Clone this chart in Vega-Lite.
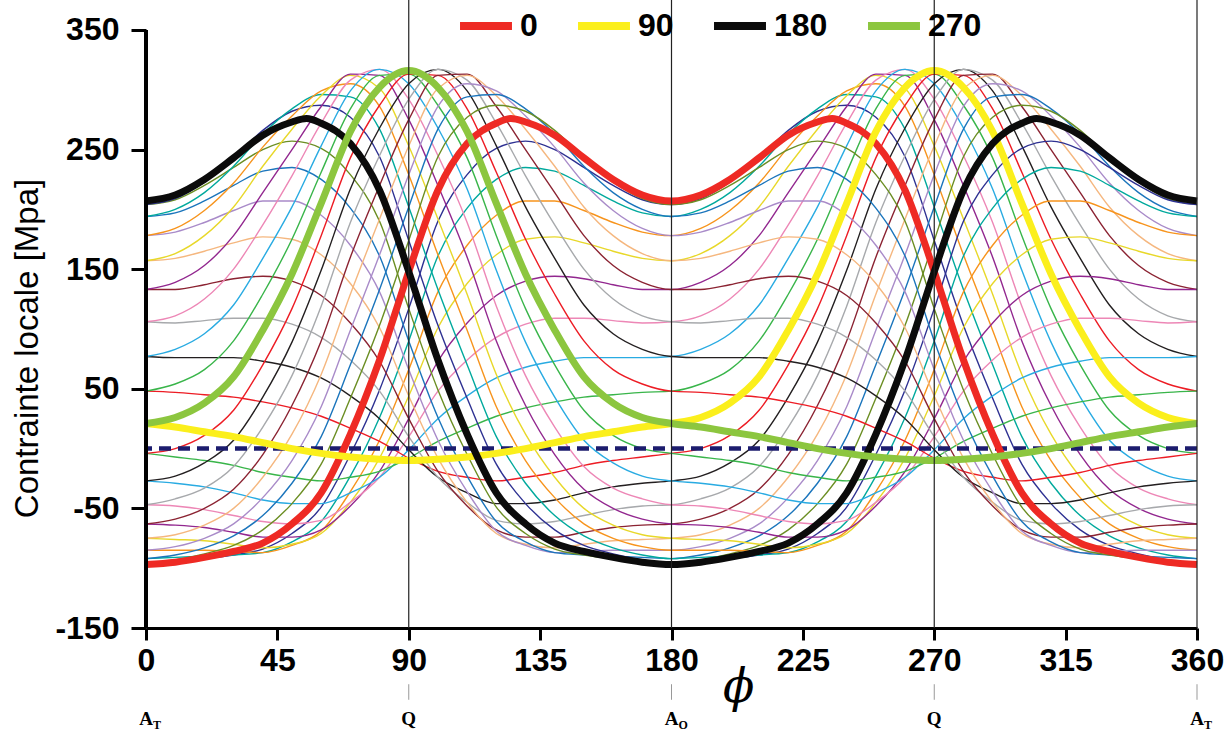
{
"$schema": "https://vega.github.io/schema/vega-lite/v6.json",
"width": 1051, "height": 628,
"autosize": {"type": "none"},
"padding": {"left": 146, "top": 0, "right": 35, "bottom": 114},
"config": {"view": {"stroke": null}, "font": "Liberation Sans"},
"datasets": {
"thin": [
{"t":10,"p":0,"v":-96},{"t":10,"p":10,"v":-94},{"t":10,"p":20,"v":-92},{"t":10,"p":30,"v":-89},{"t":10,"p":40,"v":-84},{"t":10,"p":50,"v":-71},{"t":10,"p":60,"v":-49},{"t":10,"p":70,"v":-5},{"t":10,"p":80,"v":49},{"t":10,"p":90,"v":117},{"t":10,"p":100,"v":190},{"t":10,"p":110,"v":229},{"t":10,"p":120,"v":251},{"t":10,"p":130,"v":257},{"t":10,"p":140,"v":250},{"t":10,"p":150,"v":235},{"t":10,"p":160,"v":220},{"t":10,"p":170,"v":208},{"t":10,"p":180,"v":204},{"t":10,"p":190,"v":209},{"t":10,"p":200,"v":223},{"t":10,"p":210,"v":243},{"t":10,"p":220,"v":266},{"t":10,"p":230,"v":282},{"t":10,"p":240,"v":287},{"t":10,"p":250,"v":277},{"t":10,"p":260,"v":244},{"t":10,"p":270,"v":174},{"t":10,"p":280,"v":103},{"t":10,"p":290,"v":42},{"t":10,"p":300,"v":-13},{"t":10,"p":310,"v":-46},{"t":10,"p":320,"v":-68},{"t":10,"p":330,"v":-81},{"t":10,"p":340,"v":-88},{"t":10,"p":350,"v":-93},{"t":10,"p":360,"v":-96},
{"t":20,"p":0,"v":-92},{"t":20,"p":10,"v":-91},{"t":20,"p":20,"v":-90},{"t":20,"p":30,"v":-89},{"t":20,"p":40,"v":-87},{"t":20,"p":50,"v":-78},{"t":20,"p":60,"v":-61},{"t":20,"p":70,"v":-23},{"t":20,"p":80,"v":26},{"t":20,"p":90,"v":90},{"t":20,"p":100,"v":161},{"t":20,"p":110,"v":201},{"t":20,"p":120,"v":225},{"t":20,"p":130,"v":235},{"t":20,"p":140,"v":232},{"t":20,"p":150,"v":220},{"t":20,"p":160,"v":207},{"t":20,"p":170,"v":197},{"t":20,"p":180,"v":194},{"t":20,"p":190,"v":200},{"t":20,"p":200,"v":214},{"t":20,"p":210,"v":236},{"t":20,"p":220,"v":263},{"t":20,"p":230,"v":284},{"t":20,"p":240,"v":296},{"t":20,"p":250,"v":294},{"t":20,"p":260,"v":267},{"t":20,"p":270,"v":202},{"t":20,"p":280,"v":133},{"t":20,"p":290,"v":70},{"t":20,"p":300,"v":10},{"t":20,"p":310,"v":-29},{"t":20,"p":320,"v":-56},{"t":20,"p":330,"v":-73},{"t":20,"p":340,"v":-83},{"t":20,"p":350,"v":-89},{"t":20,"p":360,"v":-92},
{"t":30,"p":0,"v":-85},{"t":30,"p":10,"v":-85},{"t":30,"p":20,"v":-85},{"t":30,"p":30,"v":-86},{"t":30,"p":40,"v":-87},{"t":30,"p":50,"v":-81},{"t":30,"p":60,"v":-69},{"t":30,"p":70,"v":-36},{"t":30,"p":80,"v":7},{"t":30,"p":90,"v":66},{"t":30,"p":100,"v":131},{"t":30,"p":110,"v":170},{"t":30,"p":120,"v":195},{"t":30,"p":130,"v":207},{"t":30,"p":140,"v":207},{"t":30,"p":150,"v":199},{"t":30,"p":160,"v":189},{"t":30,"p":170,"v":181},{"t":30,"p":180,"v":178},{"t":30,"p":190,"v":184},{"t":30,"p":200,"v":199},{"t":30,"p":210,"v":222},{"t":30,"p":220,"v":252},{"t":30,"p":230,"v":278},{"t":30,"p":240,"v":299},{"t":30,"p":250,"v":305},{"t":30,"p":260,"v":286},{"t":30,"p":270,"v":229},{"t":30,"p":280,"v":162},{"t":30,"p":290,"v":99},{"t":30,"p":300,"v":35},{"t":30,"p":310,"v":-10},{"t":30,"p":320,"v":-41},{"t":30,"p":330,"v":-63},{"t":30,"p":340,"v":-75},{"t":30,"p":350,"v":-82},{"t":30,"p":360,"v":-85},
{"t":40,"p":0,"v":-75},{"t":40,"p":10,"v":-76},{"t":40,"p":20,"v":-77},{"t":40,"p":30,"v":-80},{"t":40,"p":40,"v":-83},{"t":40,"p":50,"v":-80},{"t":40,"p":60,"v":-71},{"t":40,"p":70,"v":-45},{"t":40,"p":80,"v":-8},{"t":40,"p":90,"v":44},{"t":40,"p":100,"v":101},{"t":40,"p":110,"v":138},{"t":40,"p":120,"v":162},{"t":40,"p":130,"v":175},{"t":40,"p":140,"v":177},{"t":40,"p":150,"v":172},{"t":40,"p":160,"v":165},{"t":40,"p":170,"v":159},{"t":40,"p":180,"v":157},{"t":40,"p":190,"v":163},{"t":40,"p":200,"v":178},{"t":40,"p":210,"v":202},{"t":40,"p":220,"v":236},{"t":40,"p":230,"v":267},{"t":40,"p":240,"v":295},{"t":40,"p":250,"v":312},{"t":40,"p":260,"v":301},{"t":40,"p":270,"v":253},{"t":40,"p":280,"v":192},{"t":40,"p":290,"v":129},{"t":40,"p":300,"v":62},{"t":40,"p":310,"v":12},{"t":40,"p":320,"v":-24},{"t":40,"p":330,"v":-50},{"t":40,"p":340,"v":-64},{"t":40,"p":350,"v":-72},{"t":40,"p":360,"v":-75},
{"t":50,"p":0,"v":-63},{"t":50,"p":10,"v":-64},{"t":50,"p":20,"v":-66},{"t":50,"p":30,"v":-70},{"t":50,"p":40,"v":-74},{"t":50,"p":50,"v":-74},{"t":50,"p":60,"v":-68},{"t":50,"p":70,"v":-48},{"t":50,"p":80,"v":-19},{"t":50,"p":90,"v":25},{"t":50,"p":100,"v":73},{"t":50,"p":110,"v":105},{"t":50,"p":120,"v":128},{"t":50,"p":130,"v":140},{"t":50,"p":140,"v":144},{"t":50,"p":150,"v":142},{"t":50,"p":160,"v":137},{"t":50,"p":170,"v":133},{"t":50,"p":180,"v":133},{"t":50,"p":190,"v":139},{"t":50,"p":200,"v":153},{"t":50,"p":210,"v":178},{"t":50,"p":220,"v":214},{"t":50,"p":230,"v":250},{"t":50,"p":240,"v":286},{"t":50,"p":250,"v":313},{"t":50,"p":260,"v":312},{"t":50,"p":270,"v":275},{"t":50,"p":280,"v":220},{"t":50,"p":290,"v":160},{"t":50,"p":300,"v":90},{"t":50,"p":310,"v":36},{"t":50,"p":320,"v":-5},{"t":50,"p":330,"v":-34},{"t":50,"p":340,"v":-50},{"t":50,"p":350,"v":-59},{"t":50,"p":360,"v":-63},
{"t":60,"p":0,"v":-47},{"t":60,"p":10,"v":-48},{"t":60,"p":20,"v":-51},{"t":60,"p":30,"v":-56},{"t":60,"p":40,"v":-61},{"t":60,"p":50,"v":-63},{"t":60,"p":60,"v":-60},{"t":60,"p":70,"v":-45},{"t":60,"p":80,"v":-24},{"t":60,"p":90,"v":10},{"t":60,"p":100,"v":48},{"t":60,"p":110,"v":74},{"t":60,"p":120,"v":93},{"t":60,"p":130,"v":104},{"t":60,"p":140,"v":109},{"t":60,"p":150,"v":109},{"t":60,"p":160,"v":107},{"t":60,"p":170,"v":105},{"t":60,"p":180,"v":106},{"t":60,"p":190,"v":111},{"t":60,"p":200,"v":125},{"t":60,"p":210,"v":150},{"t":60,"p":220,"v":187},{"t":60,"p":230,"v":228},{"t":60,"p":240,"v":272},{"t":60,"p":250,"v":308},{"t":60,"p":260,"v":317},{"t":60,"p":270,"v":292},{"t":60,"p":280,"v":245},{"t":60,"p":290,"v":189},{"t":60,"p":300,"v":119},{"t":60,"p":310,"v":61},{"t":60,"p":320,"v":18},{"t":60,"p":330,"v":-15},{"t":60,"p":340,"v":-33},{"t":60,"p":350,"v":-42},{"t":60,"p":360,"v":-47},
{"t":70,"p":0,"v":-27},{"t":70,"p":10,"v":-29},{"t":70,"p":20,"v":-32},{"t":70,"p":30,"v":-37},{"t":70,"p":40,"v":-43},{"t":70,"p":50,"v":-46},{"t":70,"p":60,"v":-46},{"t":70,"p":70,"v":-37},{"t":70,"p":80,"v":-24},{"t":70,"p":90,"v":-1},{"t":70,"p":100,"v":25},{"t":70,"p":110,"v":44},{"t":70,"p":120,"v":59},{"t":70,"p":130,"v":68},{"t":70,"p":140,"v":73},{"t":70,"p":150,"v":76},{"t":70,"p":160,"v":76},{"t":70,"p":170,"v":76},{"t":70,"p":180,"v":77},{"t":70,"p":190,"v":83},{"t":70,"p":200,"v":96},{"t":70,"p":210,"v":120},{"t":70,"p":220,"v":159},{"t":70,"p":230,"v":202},{"t":70,"p":240,"v":253},{"t":70,"p":250,"v":299},{"t":70,"p":260,"v":317},{"t":70,"p":270,"v":305},{"t":70,"p":280,"v":268},{"t":70,"p":290,"v":217},{"t":70,"p":300,"v":149},{"t":70,"p":310,"v":89},{"t":70,"p":320,"v":43},{"t":70,"p":330,"v":7},{"t":70,"p":340,"v":-12},{"t":70,"p":350,"v":-23},{"t":70,"p":360,"v":-27},
{"t":80,"p":0,"v":-4},{"t":80,"p":10,"v":-7},{"t":80,"p":20,"v":-10},{"t":80,"p":30,"v":-14},{"t":80,"p":40,"v":-20},{"t":80,"p":50,"v":-24},{"t":80,"p":60,"v":-27},{"t":80,"p":70,"v":-24},{"t":80,"p":80,"v":-19},{"t":80,"p":90,"v":-8},{"t":80,"p":100,"v":6},{"t":80,"p":110,"v":17},{"t":80,"p":120,"v":27},{"t":80,"p":130,"v":34},{"t":80,"p":140,"v":39},{"t":80,"p":150,"v":43},{"t":80,"p":160,"v":45},{"t":80,"p":170,"v":47},{"t":80,"p":180,"v":48},{"t":80,"p":190,"v":54},{"t":80,"p":200,"v":66},{"t":80,"p":210,"v":90},{"t":80,"p":220,"v":129},{"t":80,"p":230,"v":175},{"t":80,"p":240,"v":231},{"t":80,"p":250,"v":284},{"t":80,"p":260,"v":312},{"t":80,"p":270,"v":313},{"t":80,"p":280,"v":287},{"t":80,"p":290,"v":243},{"t":80,"p":300,"v":178},{"t":80,"p":310,"v":117},{"t":80,"p":320,"v":70},{"t":80,"p":330,"v":32},{"t":80,"p":340,"v":11},{"t":80,"p":350,"v":0},{"t":80,"p":360,"v":-4},
{"t":100,"p":0,"v":48},{"t":100,"p":10,"v":47},{"t":100,"p":20,"v":45},{"t":100,"p":30,"v":43},{"t":100,"p":40,"v":39},{"t":100,"p":50,"v":34},{"t":100,"p":60,"v":27},{"t":100,"p":70,"v":17},{"t":100,"p":80,"v":6},{"t":100,"p":90,"v":-8},{"t":100,"p":100,"v":-19},{"t":100,"p":110,"v":-24},{"t":100,"p":120,"v":-27},{"t":100,"p":130,"v":-24},{"t":100,"p":140,"v":-20},{"t":100,"p":150,"v":-14},{"t":100,"p":160,"v":-10},{"t":100,"p":170,"v":-7},{"t":100,"p":180,"v":-4},{"t":100,"p":190,"v":0},{"t":100,"p":200,"v":11},{"t":100,"p":210,"v":32},{"t":100,"p":220,"v":70},{"t":100,"p":230,"v":117},{"t":100,"p":240,"v":178},{"t":100,"p":250,"v":243},{"t":100,"p":260,"v":287},{"t":100,"p":270,"v":313},{"t":100,"p":280,"v":312},{"t":100,"p":290,"v":284},{"t":100,"p":300,"v":231},{"t":100,"p":310,"v":175},{"t":100,"p":320,"v":129},{"t":100,"p":330,"v":90},{"t":100,"p":340,"v":66},{"t":100,"p":350,"v":54},{"t":100,"p":360,"v":48},
{"t":110,"p":0,"v":77},{"t":110,"p":10,"v":76},{"t":110,"p":20,"v":76},{"t":110,"p":30,"v":76},{"t":110,"p":40,"v":73},{"t":110,"p":50,"v":68},{"t":110,"p":60,"v":59},{"t":110,"p":70,"v":44},{"t":110,"p":80,"v":25},{"t":110,"p":90,"v":-1},{"t":110,"p":100,"v":-24},{"t":110,"p":110,"v":-37},{"t":110,"p":120,"v":-46},{"t":110,"p":130,"v":-46},{"t":110,"p":140,"v":-43},{"t":110,"p":150,"v":-37},{"t":110,"p":160,"v":-32},{"t":110,"p":170,"v":-29},{"t":110,"p":180,"v":-27},{"t":110,"p":190,"v":-23},{"t":110,"p":200,"v":-12},{"t":110,"p":210,"v":7},{"t":110,"p":220,"v":43},{"t":110,"p":230,"v":89},{"t":110,"p":240,"v":149},{"t":110,"p":250,"v":217},{"t":110,"p":260,"v":268},{"t":110,"p":270,"v":305},{"t":110,"p":280,"v":317},{"t":110,"p":290,"v":299},{"t":110,"p":300,"v":253},{"t":110,"p":310,"v":202},{"t":110,"p":320,"v":159},{"t":110,"p":330,"v":120},{"t":110,"p":340,"v":96},{"t":110,"p":350,"v":83},{"t":110,"p":360,"v":77},
{"t":120,"p":0,"v":106},{"t":120,"p":10,"v":105},{"t":120,"p":20,"v":107},{"t":120,"p":30,"v":109},{"t":120,"p":40,"v":109},{"t":120,"p":50,"v":104},{"t":120,"p":60,"v":93},{"t":120,"p":70,"v":74},{"t":120,"p":80,"v":48},{"t":120,"p":90,"v":10},{"t":120,"p":100,"v":-24},{"t":120,"p":110,"v":-45},{"t":120,"p":120,"v":-60},{"t":120,"p":130,"v":-63},{"t":120,"p":140,"v":-61},{"t":120,"p":150,"v":-56},{"t":120,"p":160,"v":-51},{"t":120,"p":170,"v":-48},{"t":120,"p":180,"v":-47},{"t":120,"p":190,"v":-42},{"t":120,"p":200,"v":-33},{"t":120,"p":210,"v":-15},{"t":120,"p":220,"v":18},{"t":120,"p":230,"v":61},{"t":120,"p":240,"v":119},{"t":120,"p":250,"v":189},{"t":120,"p":260,"v":245},{"t":120,"p":270,"v":292},{"t":120,"p":280,"v":317},{"t":120,"p":290,"v":308},{"t":120,"p":300,"v":272},{"t":120,"p":310,"v":228},{"t":120,"p":320,"v":187},{"t":120,"p":330,"v":150},{"t":120,"p":340,"v":125},{"t":120,"p":350,"v":111},{"t":120,"p":360,"v":106},
{"t":130,"p":0,"v":133},{"t":130,"p":10,"v":133},{"t":130,"p":20,"v":137},{"t":130,"p":30,"v":142},{"t":130,"p":40,"v":144},{"t":130,"p":50,"v":140},{"t":130,"p":60,"v":128},{"t":130,"p":70,"v":105},{"t":130,"p":80,"v":73},{"t":130,"p":90,"v":25},{"t":130,"p":100,"v":-19},{"t":130,"p":110,"v":-48},{"t":130,"p":120,"v":-68},{"t":130,"p":130,"v":-74},{"t":130,"p":140,"v":-74},{"t":130,"p":150,"v":-70},{"t":130,"p":160,"v":-66},{"t":130,"p":170,"v":-64},{"t":130,"p":180,"v":-63},{"t":130,"p":190,"v":-59},{"t":130,"p":200,"v":-50},{"t":130,"p":210,"v":-34},{"t":130,"p":220,"v":-5},{"t":130,"p":230,"v":36},{"t":130,"p":240,"v":90},{"t":130,"p":250,"v":160},{"t":130,"p":260,"v":220},{"t":130,"p":270,"v":275},{"t":130,"p":280,"v":312},{"t":130,"p":290,"v":313},{"t":130,"p":300,"v":286},{"t":130,"p":310,"v":250},{"t":130,"p":320,"v":214},{"t":130,"p":330,"v":178},{"t":130,"p":340,"v":153},{"t":130,"p":350,"v":139},{"t":130,"p":360,"v":133},
{"t":140,"p":0,"v":157},{"t":140,"p":10,"v":159},{"t":140,"p":20,"v":165},{"t":140,"p":30,"v":172},{"t":140,"p":40,"v":177},{"t":140,"p":50,"v":175},{"t":140,"p":60,"v":162},{"t":140,"p":70,"v":138},{"t":140,"p":80,"v":101},{"t":140,"p":90,"v":44},{"t":140,"p":100,"v":-8},{"t":140,"p":110,"v":-45},{"t":140,"p":120,"v":-71},{"t":140,"p":130,"v":-80},{"t":140,"p":140,"v":-83},{"t":140,"p":150,"v":-80},{"t":140,"p":160,"v":-77},{"t":140,"p":170,"v":-76},{"t":140,"p":180,"v":-75},{"t":140,"p":190,"v":-72},{"t":140,"p":200,"v":-64},{"t":140,"p":210,"v":-50},{"t":140,"p":220,"v":-24},{"t":140,"p":230,"v":12},{"t":140,"p":240,"v":62},{"t":140,"p":250,"v":129},{"t":140,"p":260,"v":192},{"t":140,"p":270,"v":253},{"t":140,"p":280,"v":301},{"t":140,"p":290,"v":312},{"t":140,"p":300,"v":295},{"t":140,"p":310,"v":267},{"t":140,"p":320,"v":236},{"t":140,"p":330,"v":202},{"t":140,"p":340,"v":178},{"t":140,"p":350,"v":163},{"t":140,"p":360,"v":157},
{"t":150,"p":0,"v":178},{"t":150,"p":10,"v":181},{"t":150,"p":20,"v":189},{"t":150,"p":30,"v":199},{"t":150,"p":40,"v":207},{"t":150,"p":50,"v":207},{"t":150,"p":60,"v":195},{"t":150,"p":70,"v":170},{"t":150,"p":80,"v":131},{"t":150,"p":90,"v":66},{"t":150,"p":100,"v":7},{"t":150,"p":110,"v":-36},{"t":150,"p":120,"v":-69},{"t":150,"p":130,"v":-81},{"t":150,"p":140,"v":-87},{"t":150,"p":150,"v":-86},{"t":150,"p":160,"v":-85},{"t":150,"p":170,"v":-85},{"t":150,"p":180,"v":-85},{"t":150,"p":190,"v":-82},{"t":150,"p":200,"v":-75},{"t":150,"p":210,"v":-63},{"t":150,"p":220,"v":-41},{"t":150,"p":230,"v":-10},{"t":150,"p":240,"v":35},{"t":150,"p":250,"v":99},{"t":150,"p":260,"v":162},{"t":150,"p":270,"v":229},{"t":150,"p":280,"v":286},{"t":150,"p":290,"v":305},{"t":150,"p":300,"v":299},{"t":150,"p":310,"v":278},{"t":150,"p":320,"v":252},{"t":150,"p":330,"v":222},{"t":150,"p":340,"v":199},{"t":150,"p":350,"v":184},{"t":150,"p":360,"v":178},
{"t":160,"p":0,"v":194},{"t":160,"p":10,"v":197},{"t":160,"p":20,"v":207},{"t":160,"p":30,"v":220},{"t":160,"p":40,"v":232},{"t":160,"p":50,"v":235},{"t":160,"p":60,"v":225},{"t":160,"p":70,"v":201},{"t":160,"p":80,"v":161},{"t":160,"p":90,"v":90},{"t":160,"p":100,"v":26},{"t":160,"p":110,"v":-23},{"t":160,"p":120,"v":-61},{"t":160,"p":130,"v":-78},{"t":160,"p":140,"v":-87},{"t":160,"p":150,"v":-89},{"t":160,"p":160,"v":-90},{"t":160,"p":170,"v":-91},{"t":160,"p":180,"v":-92},{"t":160,"p":190,"v":-89},{"t":160,"p":200,"v":-83},{"t":160,"p":210,"v":-73},{"t":160,"p":220,"v":-56},{"t":160,"p":230,"v":-29},{"t":160,"p":240,"v":10},{"t":160,"p":250,"v":70},{"t":160,"p":260,"v":133},{"t":160,"p":270,"v":202},{"t":160,"p":280,"v":267},{"t":160,"p":290,"v":294},{"t":160,"p":300,"v":296},{"t":160,"p":310,"v":284},{"t":160,"p":320,"v":263},{"t":160,"p":330,"v":236},{"t":160,"p":340,"v":214},{"t":160,"p":350,"v":200},{"t":160,"p":360,"v":194},
{"t":170,"p":0,"v":204},{"t":170,"p":10,"v":208},{"t":170,"p":20,"v":220},{"t":170,"p":30,"v":235},{"t":170,"p":40,"v":250},{"t":170,"p":50,"v":257},{"t":170,"p":60,"v":251},{"t":170,"p":70,"v":229},{"t":170,"p":80,"v":190},{"t":170,"p":90,"v":117},{"t":170,"p":100,"v":49},{"t":170,"p":110,"v":-5},{"t":170,"p":120,"v":-49},{"t":170,"p":130,"v":-71},{"t":170,"p":140,"v":-84},{"t":170,"p":150,"v":-89},{"t":170,"p":160,"v":-92},{"t":170,"p":170,"v":-94},{"t":170,"p":180,"v":-96},{"t":170,"p":190,"v":-93},{"t":170,"p":200,"v":-88},{"t":170,"p":210,"v":-81},{"t":170,"p":220,"v":-68},{"t":170,"p":230,"v":-46},{"t":170,"p":240,"v":-13},{"t":170,"p":250,"v":42},{"t":170,"p":260,"v":103},{"t":170,"p":270,"v":174},{"t":170,"p":280,"v":244},{"t":170,"p":290,"v":277},{"t":170,"p":300,"v":287},{"t":170,"p":310,"v":282},{"t":170,"p":320,"v":266},{"t":170,"p":330,"v":243},{"t":170,"p":340,"v":223},{"t":170,"p":350,"v":209},{"t":170,"p":360,"v":204},
{"t":190,"p":0,"v":204},{"t":190,"p":10,"v":209},{"t":190,"p":20,"v":223},{"t":190,"p":30,"v":243},{"t":190,"p":40,"v":266},{"t":190,"p":50,"v":282},{"t":190,"p":60,"v":287},{"t":190,"p":70,"v":277},{"t":190,"p":80,"v":244},{"t":190,"p":90,"v":174},{"t":190,"p":100,"v":103},{"t":190,"p":110,"v":42},{"t":190,"p":120,"v":-13},{"t":190,"p":130,"v":-46},{"t":190,"p":140,"v":-68},{"t":190,"p":150,"v":-81},{"t":190,"p":160,"v":-88},{"t":190,"p":170,"v":-93},{"t":190,"p":180,"v":-96},{"t":190,"p":190,"v":-94},{"t":190,"p":200,"v":-92},{"t":190,"p":210,"v":-89},{"t":190,"p":220,"v":-84},{"t":190,"p":230,"v":-71},{"t":190,"p":240,"v":-49},{"t":190,"p":250,"v":-5},{"t":190,"p":260,"v":49},{"t":190,"p":270,"v":117},{"t":190,"p":280,"v":190},{"t":190,"p":290,"v":229},{"t":190,"p":300,"v":251},{"t":190,"p":310,"v":257},{"t":190,"p":320,"v":250},{"t":190,"p":330,"v":235},{"t":190,"p":340,"v":220},{"t":190,"p":350,"v":208},{"t":190,"p":360,"v":204},
{"t":200,"p":0,"v":194},{"t":200,"p":10,"v":200},{"t":200,"p":20,"v":214},{"t":200,"p":30,"v":236},{"t":200,"p":40,"v":263},{"t":200,"p":50,"v":284},{"t":200,"p":60,"v":296},{"t":200,"p":70,"v":294},{"t":200,"p":80,"v":267},{"t":200,"p":90,"v":202},{"t":200,"p":100,"v":133},{"t":200,"p":110,"v":70},{"t":200,"p":120,"v":10},{"t":200,"p":130,"v":-29},{"t":200,"p":140,"v":-56},{"t":200,"p":150,"v":-73},{"t":200,"p":160,"v":-83},{"t":200,"p":170,"v":-89},{"t":200,"p":180,"v":-92},{"t":200,"p":190,"v":-91},{"t":200,"p":200,"v":-90},{"t":200,"p":210,"v":-89},{"t":200,"p":220,"v":-87},{"t":200,"p":230,"v":-78},{"t":200,"p":240,"v":-61},{"t":200,"p":250,"v":-23},{"t":200,"p":260,"v":26},{"t":200,"p":270,"v":90},{"t":200,"p":280,"v":161},{"t":200,"p":290,"v":201},{"t":200,"p":300,"v":225},{"t":200,"p":310,"v":235},{"t":200,"p":320,"v":232},{"t":200,"p":330,"v":220},{"t":200,"p":340,"v":207},{"t":200,"p":350,"v":197},{"t":200,"p":360,"v":194},
{"t":210,"p":0,"v":178},{"t":210,"p":10,"v":184},{"t":210,"p":20,"v":199},{"t":210,"p":30,"v":222},{"t":210,"p":40,"v":252},{"t":210,"p":50,"v":278},{"t":210,"p":60,"v":299},{"t":210,"p":70,"v":305},{"t":210,"p":80,"v":286},{"t":210,"p":90,"v":229},{"t":210,"p":100,"v":162},{"t":210,"p":110,"v":99},{"t":210,"p":120,"v":35},{"t":210,"p":130,"v":-10},{"t":210,"p":140,"v":-41},{"t":210,"p":150,"v":-63},{"t":210,"p":160,"v":-75},{"t":210,"p":170,"v":-82},{"t":210,"p":180,"v":-85},{"t":210,"p":190,"v":-85},{"t":210,"p":200,"v":-85},{"t":210,"p":210,"v":-86},{"t":210,"p":220,"v":-87},{"t":210,"p":230,"v":-81},{"t":210,"p":240,"v":-69},{"t":210,"p":250,"v":-36},{"t":210,"p":260,"v":7},{"t":210,"p":270,"v":66},{"t":210,"p":280,"v":131},{"t":210,"p":290,"v":170},{"t":210,"p":300,"v":195},{"t":210,"p":310,"v":207},{"t":210,"p":320,"v":207},{"t":210,"p":330,"v":199},{"t":210,"p":340,"v":189},{"t":210,"p":350,"v":181},{"t":210,"p":360,"v":178},
{"t":220,"p":0,"v":157},{"t":220,"p":10,"v":163},{"t":220,"p":20,"v":178},{"t":220,"p":30,"v":202},{"t":220,"p":40,"v":236},{"t":220,"p":50,"v":267},{"t":220,"p":60,"v":295},{"t":220,"p":70,"v":312},{"t":220,"p":80,"v":301},{"t":220,"p":90,"v":253},{"t":220,"p":100,"v":192},{"t":220,"p":110,"v":129},{"t":220,"p":120,"v":62},{"t":220,"p":130,"v":12},{"t":220,"p":140,"v":-24},{"t":220,"p":150,"v":-50},{"t":220,"p":160,"v":-64},{"t":220,"p":170,"v":-72},{"t":220,"p":180,"v":-75},{"t":220,"p":190,"v":-76},{"t":220,"p":200,"v":-77},{"t":220,"p":210,"v":-80},{"t":220,"p":220,"v":-83},{"t":220,"p":230,"v":-80},{"t":220,"p":240,"v":-71},{"t":220,"p":250,"v":-45},{"t":220,"p":260,"v":-8},{"t":220,"p":270,"v":44},{"t":220,"p":280,"v":101},{"t":220,"p":290,"v":138},{"t":220,"p":300,"v":162},{"t":220,"p":310,"v":175},{"t":220,"p":320,"v":177},{"t":220,"p":330,"v":172},{"t":220,"p":340,"v":165},{"t":220,"p":350,"v":159},{"t":220,"p":360,"v":157},
{"t":230,"p":0,"v":133},{"t":230,"p":10,"v":139},{"t":230,"p":20,"v":153},{"t":230,"p":30,"v":178},{"t":230,"p":40,"v":214},{"t":230,"p":50,"v":250},{"t":230,"p":60,"v":286},{"t":230,"p":70,"v":313},{"t":230,"p":80,"v":312},{"t":230,"p":90,"v":275},{"t":230,"p":100,"v":220},{"t":230,"p":110,"v":160},{"t":230,"p":120,"v":90},{"t":230,"p":130,"v":36},{"t":230,"p":140,"v":-5},{"t":230,"p":150,"v":-34},{"t":230,"p":160,"v":-50},{"t":230,"p":170,"v":-59},{"t":230,"p":180,"v":-63},{"t":230,"p":190,"v":-64},{"t":230,"p":200,"v":-66},{"t":230,"p":210,"v":-70},{"t":230,"p":220,"v":-74},{"t":230,"p":230,"v":-74},{"t":230,"p":240,"v":-68},{"t":230,"p":250,"v":-48},{"t":230,"p":260,"v":-19},{"t":230,"p":270,"v":25},{"t":230,"p":280,"v":73},{"t":230,"p":290,"v":105},{"t":230,"p":300,"v":128},{"t":230,"p":310,"v":140},{"t":230,"p":320,"v":144},{"t":230,"p":330,"v":142},{"t":230,"p":340,"v":137},{"t":230,"p":350,"v":133},{"t":230,"p":360,"v":133},
{"t":240,"p":0,"v":106},{"t":240,"p":10,"v":111},{"t":240,"p":20,"v":125},{"t":240,"p":30,"v":150},{"t":240,"p":40,"v":187},{"t":240,"p":50,"v":228},{"t":240,"p":60,"v":272},{"t":240,"p":70,"v":308},{"t":240,"p":80,"v":317},{"t":240,"p":90,"v":292},{"t":240,"p":100,"v":245},{"t":240,"p":110,"v":189},{"t":240,"p":120,"v":119},{"t":240,"p":130,"v":61},{"t":240,"p":140,"v":18},{"t":240,"p":150,"v":-15},{"t":240,"p":160,"v":-33},{"t":240,"p":170,"v":-42},{"t":240,"p":180,"v":-47},{"t":240,"p":190,"v":-48},{"t":240,"p":200,"v":-51},{"t":240,"p":210,"v":-56},{"t":240,"p":220,"v":-61},{"t":240,"p":230,"v":-63},{"t":240,"p":240,"v":-60},{"t":240,"p":250,"v":-45},{"t":240,"p":260,"v":-24},{"t":240,"p":270,"v":10},{"t":240,"p":280,"v":48},{"t":240,"p":290,"v":74},{"t":240,"p":300,"v":93},{"t":240,"p":310,"v":104},{"t":240,"p":320,"v":109},{"t":240,"p":330,"v":109},{"t":240,"p":340,"v":107},{"t":240,"p":350,"v":105},{"t":240,"p":360,"v":106},
{"t":250,"p":0,"v":77},{"t":250,"p":10,"v":83},{"t":250,"p":20,"v":96},{"t":250,"p":30,"v":120},{"t":250,"p":40,"v":159},{"t":250,"p":50,"v":202},{"t":250,"p":60,"v":253},{"t":250,"p":70,"v":299},{"t":250,"p":80,"v":317},{"t":250,"p":90,"v":305},{"t":250,"p":100,"v":268},{"t":250,"p":110,"v":217},{"t":250,"p":120,"v":149},{"t":250,"p":130,"v":89},{"t":250,"p":140,"v":43},{"t":250,"p":150,"v":7},{"t":250,"p":160,"v":-12},{"t":250,"p":170,"v":-23},{"t":250,"p":180,"v":-27},{"t":250,"p":190,"v":-29},{"t":250,"p":200,"v":-32},{"t":250,"p":210,"v":-37},{"t":250,"p":220,"v":-43},{"t":250,"p":230,"v":-46},{"t":250,"p":240,"v":-46},{"t":250,"p":250,"v":-37},{"t":250,"p":260,"v":-24},{"t":250,"p":270,"v":-1},{"t":250,"p":280,"v":25},{"t":250,"p":290,"v":44},{"t":250,"p":300,"v":59},{"t":250,"p":310,"v":68},{"t":250,"p":320,"v":73},{"t":250,"p":330,"v":76},{"t":250,"p":340,"v":76},{"t":250,"p":350,"v":76},{"t":250,"p":360,"v":77},
{"t":260,"p":0,"v":48},{"t":260,"p":10,"v":54},{"t":260,"p":20,"v":66},{"t":260,"p":30,"v":90},{"t":260,"p":40,"v":129},{"t":260,"p":50,"v":175},{"t":260,"p":60,"v":231},{"t":260,"p":70,"v":284},{"t":260,"p":80,"v":312},{"t":260,"p":90,"v":313},{"t":260,"p":100,"v":287},{"t":260,"p":110,"v":243},{"t":260,"p":120,"v":178},{"t":260,"p":130,"v":117},{"t":260,"p":140,"v":70},{"t":260,"p":150,"v":32},{"t":260,"p":160,"v":11},{"t":260,"p":170,"v":0},{"t":260,"p":180,"v":-4},{"t":260,"p":190,"v":-7},{"t":260,"p":200,"v":-10},{"t":260,"p":210,"v":-14},{"t":260,"p":220,"v":-20},{"t":260,"p":230,"v":-24},{"t":260,"p":240,"v":-27},{"t":260,"p":250,"v":-24},{"t":260,"p":260,"v":-19},{"t":260,"p":270,"v":-8},{"t":260,"p":280,"v":6},{"t":260,"p":290,"v":17},{"t":260,"p":300,"v":27},{"t":260,"p":310,"v":34},{"t":260,"p":320,"v":39},{"t":260,"p":330,"v":43},{"t":260,"p":340,"v":45},{"t":260,"p":350,"v":47},{"t":260,"p":360,"v":48},
{"t":280,"p":0,"v":-4},{"t":280,"p":10,"v":0},{"t":280,"p":20,"v":11},{"t":280,"p":30,"v":32},{"t":280,"p":40,"v":70},{"t":280,"p":50,"v":117},{"t":280,"p":60,"v":178},{"t":280,"p":70,"v":243},{"t":280,"p":80,"v":287},{"t":280,"p":90,"v":313},{"t":280,"p":100,"v":312},{"t":280,"p":110,"v":284},{"t":280,"p":120,"v":231},{"t":280,"p":130,"v":175},{"t":280,"p":140,"v":129},{"t":280,"p":150,"v":90},{"t":280,"p":160,"v":66},{"t":280,"p":170,"v":54},{"t":280,"p":180,"v":48},{"t":280,"p":190,"v":47},{"t":280,"p":200,"v":45},{"t":280,"p":210,"v":43},{"t":280,"p":220,"v":39},{"t":280,"p":230,"v":34},{"t":280,"p":240,"v":27},{"t":280,"p":250,"v":17},{"t":280,"p":260,"v":6},{"t":280,"p":270,"v":-8},{"t":280,"p":280,"v":-19},{"t":280,"p":290,"v":-24},{"t":280,"p":300,"v":-27},{"t":280,"p":310,"v":-24},{"t":280,"p":320,"v":-20},{"t":280,"p":330,"v":-14},{"t":280,"p":340,"v":-10},{"t":280,"p":350,"v":-7},{"t":280,"p":360,"v":-4},
{"t":290,"p":0,"v":-27},{"t":290,"p":10,"v":-23},{"t":290,"p":20,"v":-12},{"t":290,"p":30,"v":7},{"t":290,"p":40,"v":43},{"t":290,"p":50,"v":89},{"t":290,"p":60,"v":149},{"t":290,"p":70,"v":217},{"t":290,"p":80,"v":268},{"t":290,"p":90,"v":305},{"t":290,"p":100,"v":317},{"t":290,"p":110,"v":299},{"t":290,"p":120,"v":253},{"t":290,"p":130,"v":202},{"t":290,"p":140,"v":159},{"t":290,"p":150,"v":120},{"t":290,"p":160,"v":96},{"t":290,"p":170,"v":83},{"t":290,"p":180,"v":77},{"t":290,"p":190,"v":76},{"t":290,"p":200,"v":76},{"t":290,"p":210,"v":76},{"t":290,"p":220,"v":73},{"t":290,"p":230,"v":68},{"t":290,"p":240,"v":59},{"t":290,"p":250,"v":44},{"t":290,"p":260,"v":25},{"t":290,"p":270,"v":-1},{"t":290,"p":280,"v":-24},{"t":290,"p":290,"v":-37},{"t":290,"p":300,"v":-46},{"t":290,"p":310,"v":-46},{"t":290,"p":320,"v":-43},{"t":290,"p":330,"v":-37},{"t":290,"p":340,"v":-32},{"t":290,"p":350,"v":-29},{"t":290,"p":360,"v":-27},
{"t":300,"p":0,"v":-47},{"t":300,"p":10,"v":-42},{"t":300,"p":20,"v":-33},{"t":300,"p":30,"v":-15},{"t":300,"p":40,"v":18},{"t":300,"p":50,"v":61},{"t":300,"p":60,"v":119},{"t":300,"p":70,"v":189},{"t":300,"p":80,"v":245},{"t":300,"p":90,"v":292},{"t":300,"p":100,"v":317},{"t":300,"p":110,"v":308},{"t":300,"p":120,"v":272},{"t":300,"p":130,"v":228},{"t":300,"p":140,"v":187},{"t":300,"p":150,"v":150},{"t":300,"p":160,"v":125},{"t":300,"p":170,"v":111},{"t":300,"p":180,"v":106},{"t":300,"p":190,"v":105},{"t":300,"p":200,"v":107},{"t":300,"p":210,"v":109},{"t":300,"p":220,"v":109},{"t":300,"p":230,"v":104},{"t":300,"p":240,"v":93},{"t":300,"p":250,"v":74},{"t":300,"p":260,"v":48},{"t":300,"p":270,"v":10},{"t":300,"p":280,"v":-24},{"t":300,"p":290,"v":-45},{"t":300,"p":300,"v":-60},{"t":300,"p":310,"v":-63},{"t":300,"p":320,"v":-61},{"t":300,"p":330,"v":-56},{"t":300,"p":340,"v":-51},{"t":300,"p":350,"v":-48},{"t":300,"p":360,"v":-47},
{"t":310,"p":0,"v":-63},{"t":310,"p":10,"v":-59},{"t":310,"p":20,"v":-50},{"t":310,"p":30,"v":-34},{"t":310,"p":40,"v":-5},{"t":310,"p":50,"v":36},{"t":310,"p":60,"v":90},{"t":310,"p":70,"v":160},{"t":310,"p":80,"v":220},{"t":310,"p":90,"v":275},{"t":310,"p":100,"v":312},{"t":310,"p":110,"v":313},{"t":310,"p":120,"v":286},{"t":310,"p":130,"v":250},{"t":310,"p":140,"v":214},{"t":310,"p":150,"v":178},{"t":310,"p":160,"v":153},{"t":310,"p":170,"v":139},{"t":310,"p":180,"v":133},{"t":310,"p":190,"v":133},{"t":310,"p":200,"v":137},{"t":310,"p":210,"v":142},{"t":310,"p":220,"v":144},{"t":310,"p":230,"v":140},{"t":310,"p":240,"v":128},{"t":310,"p":250,"v":105},{"t":310,"p":260,"v":73},{"t":310,"p":270,"v":25},{"t":310,"p":280,"v":-19},{"t":310,"p":290,"v":-48},{"t":310,"p":300,"v":-68},{"t":310,"p":310,"v":-74},{"t":310,"p":320,"v":-74},{"t":310,"p":330,"v":-70},{"t":310,"p":340,"v":-66},{"t":310,"p":350,"v":-64},{"t":310,"p":360,"v":-63},
{"t":320,"p":0,"v":-75},{"t":320,"p":10,"v":-72},{"t":320,"p":20,"v":-64},{"t":320,"p":30,"v":-50},{"t":320,"p":40,"v":-24},{"t":320,"p":50,"v":12},{"t":320,"p":60,"v":62},{"t":320,"p":70,"v":129},{"t":320,"p":80,"v":192},{"t":320,"p":90,"v":253},{"t":320,"p":100,"v":301},{"t":320,"p":110,"v":312},{"t":320,"p":120,"v":295},{"t":320,"p":130,"v":267},{"t":320,"p":140,"v":236},{"t":320,"p":150,"v":202},{"t":320,"p":160,"v":178},{"t":320,"p":170,"v":163},{"t":320,"p":180,"v":157},{"t":320,"p":190,"v":159},{"t":320,"p":200,"v":165},{"t":320,"p":210,"v":172},{"t":320,"p":220,"v":177},{"t":320,"p":230,"v":175},{"t":320,"p":240,"v":162},{"t":320,"p":250,"v":138},{"t":320,"p":260,"v":101},{"t":320,"p":270,"v":44},{"t":320,"p":280,"v":-8},{"t":320,"p":290,"v":-45},{"t":320,"p":300,"v":-71},{"t":320,"p":310,"v":-80},{"t":320,"p":320,"v":-83},{"t":320,"p":330,"v":-80},{"t":320,"p":340,"v":-77},{"t":320,"p":350,"v":-76},{"t":320,"p":360,"v":-75},
{"t":330,"p":0,"v":-85},{"t":330,"p":10,"v":-82},{"t":330,"p":20,"v":-75},{"t":330,"p":30,"v":-63},{"t":330,"p":40,"v":-41},{"t":330,"p":50,"v":-10},{"t":330,"p":60,"v":35},{"t":330,"p":70,"v":99},{"t":330,"p":80,"v":162},{"t":330,"p":90,"v":229},{"t":330,"p":100,"v":286},{"t":330,"p":110,"v":305},{"t":330,"p":120,"v":299},{"t":330,"p":130,"v":278},{"t":330,"p":140,"v":252},{"t":330,"p":150,"v":222},{"t":330,"p":160,"v":199},{"t":330,"p":170,"v":184},{"t":330,"p":180,"v":178},{"t":330,"p":190,"v":181},{"t":330,"p":200,"v":189},{"t":330,"p":210,"v":199},{"t":330,"p":220,"v":207},{"t":330,"p":230,"v":207},{"t":330,"p":240,"v":195},{"t":330,"p":250,"v":170},{"t":330,"p":260,"v":131},{"t":330,"p":270,"v":66},{"t":330,"p":280,"v":7},{"t":330,"p":290,"v":-36},{"t":330,"p":300,"v":-69},{"t":330,"p":310,"v":-81},{"t":330,"p":320,"v":-87},{"t":330,"p":330,"v":-86},{"t":330,"p":340,"v":-85},{"t":330,"p":350,"v":-85},{"t":330,"p":360,"v":-85},
{"t":340,"p":0,"v":-92},{"t":340,"p":10,"v":-89},{"t":340,"p":20,"v":-83},{"t":340,"p":30,"v":-73},{"t":340,"p":40,"v":-56},{"t":340,"p":50,"v":-29},{"t":340,"p":60,"v":10},{"t":340,"p":70,"v":70},{"t":340,"p":80,"v":133},{"t":340,"p":90,"v":202},{"t":340,"p":100,"v":267},{"t":340,"p":110,"v":294},{"t":340,"p":120,"v":296},{"t":340,"p":130,"v":284},{"t":340,"p":140,"v":263},{"t":340,"p":150,"v":236},{"t":340,"p":160,"v":214},{"t":340,"p":170,"v":200},{"t":340,"p":180,"v":194},{"t":340,"p":190,"v":197},{"t":340,"p":200,"v":207},{"t":340,"p":210,"v":220},{"t":340,"p":220,"v":232},{"t":340,"p":230,"v":235},{"t":340,"p":240,"v":225},{"t":340,"p":250,"v":201},{"t":340,"p":260,"v":161},{"t":340,"p":270,"v":90},{"t":340,"p":280,"v":26},{"t":340,"p":290,"v":-23},{"t":340,"p":300,"v":-61},{"t":340,"p":310,"v":-78},{"t":340,"p":320,"v":-87},{"t":340,"p":330,"v":-89},{"t":340,"p":340,"v":-90},{"t":340,"p":350,"v":-91},{"t":340,"p":360,"v":-92},
{"t":350,"p":0,"v":-96},{"t":350,"p":10,"v":-93},{"t":350,"p":20,"v":-88},{"t":350,"p":30,"v":-81},{"t":350,"p":40,"v":-68},{"t":350,"p":50,"v":-46},{"t":350,"p":60,"v":-13},{"t":350,"p":70,"v":42},{"t":350,"p":80,"v":103},{"t":350,"p":90,"v":174},{"t":350,"p":100,"v":244},{"t":350,"p":110,"v":277},{"t":350,"p":120,"v":287},{"t":350,"p":130,"v":282},{"t":350,"p":140,"v":266},{"t":350,"p":150,"v":243},{"t":350,"p":160,"v":223},{"t":350,"p":170,"v":209},{"t":350,"p":180,"v":204},{"t":350,"p":190,"v":208},{"t":350,"p":200,"v":220},{"t":350,"p":210,"v":235},{"t":350,"p":220,"v":250},{"t":350,"p":230,"v":257},{"t":350,"p":240,"v":251},{"t":350,"p":250,"v":229},{"t":350,"p":260,"v":190},{"t":350,"p":270,"v":117},{"t":350,"p":280,"v":49},{"t":350,"p":290,"v":-5},{"t":350,"p":300,"v":-49},{"t":350,"p":310,"v":-71},{"t":350,"p":320,"v":-84},{"t":350,"p":330,"v":-89},{"t":350,"p":340,"v":-92},{"t":350,"p":350,"v":-94},{"t":350,"p":360,"v":-96}
],
"heavy": [
{"s":"0","p":0,"v":-97},{"s":"0","p":10,"v":-95},{"s":"0","p":20,"v":-91},{"s":"0","p":30,"v":-86},{"s":"0","p":40,"v":-79},{"s":"0","p":50,"v":-63},{"s":"0","p":60,"v":-37},{"s":"0","p":70,"v":12},{"s":"0","p":80,"v":74},{"s":"0","p":90,"v":148},{"s":"0","p":100,"v":216},{"s":"0","p":110,"v":255},{"s":"0","p":120,"v":272},{"s":"0","p":125,"v":276},{"s":"0","p":130,"v":273},{"s":"0","p":140,"v":262},{"s":"0","p":150,"v":243},{"s":"0","p":160,"v":225},{"s":"0","p":170,"v":212},{"s":"0","p":180,"v":207},{"s":"0","p":190,"v":212},{"s":"0","p":200,"v":225},{"s":"0","p":210,"v":243},{"s":"0","p":220,"v":262},{"s":"0","p":230,"v":273},{"s":"0","p":235,"v":276},{"s":"0","p":240,"v":272},{"s":"0","p":250,"v":255},{"s":"0","p":260,"v":216},{"s":"0","p":270,"v":148},{"s":"0","p":280,"v":74},{"s":"0","p":290,"v":12},{"s":"0","p":300,"v":-37},{"s":"0","p":310,"v":-63},{"s":"0","p":320,"v":-79},{"s":"0","p":330,"v":-86},{"s":"0","p":340,"v":-91},{"s":"0","p":350,"v":-95},{"s":"0","p":360,"v":-97},
{"s":"90","p":0,"v":21},{"s":"90","p":10,"v":18},{"s":"90","p":20,"v":14},{"s":"90","p":30,"v":10},{"s":"90","p":40,"v":5},{"s":"90","p":50,"v":0},{"s":"90","p":60,"v":-4},{"s":"90","p":70,"v":-7},{"s":"90","p":80,"v":-9},{"s":"90","p":90,"v":-10},{"s":"90","p":100,"v":-9},{"s":"90","p":110,"v":-7},{"s":"90","p":120,"v":-4},{"s":"90","p":130,"v":0},{"s":"90","p":140,"v":5},{"s":"90","p":150,"v":10},{"s":"90","p":160,"v":14},{"s":"90","p":170,"v":18},{"s":"90","p":180,"v":21},{"s":"90","p":190,"v":26},{"s":"90","p":200,"v":38},{"s":"90","p":210,"v":60},{"s":"90","p":220,"v":99},{"s":"90","p":230,"v":146},{"s":"90","p":240,"v":205},{"s":"90","p":250,"v":265},{"s":"90","p":260,"v":302},{"s":"90","p":270,"v":316},{"s":"90","p":280,"v":302},{"s":"90","p":290,"v":265},{"s":"90","p":300,"v":205},{"s":"90","p":310,"v":146},{"s":"90","p":320,"v":99},{"s":"90","p":330,"v":60},{"s":"90","p":340,"v":38},{"s":"90","p":350,"v":26},{"s":"90","p":360,"v":21},
{"s":"180","p":0,"v":207},{"s":"180","p":10,"v":212},{"s":"180","p":20,"v":225},{"s":"180","p":30,"v":243},{"s":"180","p":40,"v":262},{"s":"180","p":50,"v":273},{"s":"180","p":55,"v":276},{"s":"180","p":60,"v":272},{"s":"180","p":70,"v":255},{"s":"180","p":80,"v":216},{"s":"180","p":90,"v":148},{"s":"180","p":100,"v":74},{"s":"180","p":110,"v":12},{"s":"180","p":120,"v":-37},{"s":"180","p":130,"v":-63},{"s":"180","p":140,"v":-79},{"s":"180","p":150,"v":-86},{"s":"180","p":160,"v":-91},{"s":"180","p":170,"v":-95},{"s":"180","p":180,"v":-97},{"s":"180","p":190,"v":-95},{"s":"180","p":200,"v":-91},{"s":"180","p":210,"v":-86},{"s":"180","p":220,"v":-79},{"s":"180","p":230,"v":-63},{"s":"180","p":240,"v":-37},{"s":"180","p":250,"v":12},{"s":"180","p":260,"v":74},{"s":"180","p":270,"v":148},{"s":"180","p":280,"v":216},{"s":"180","p":290,"v":255},{"s":"180","p":300,"v":272},{"s":"180","p":305,"v":276},{"s":"180","p":310,"v":273},{"s":"180","p":320,"v":262},{"s":"180","p":330,"v":243},{"s":"180","p":340,"v":225},{"s":"180","p":350,"v":212},{"s":"180","p":360,"v":207},
{"s":"270","p":0,"v":21},{"s":"270","p":10,"v":26},{"s":"270","p":20,"v":38},{"s":"270","p":30,"v":60},{"s":"270","p":40,"v":99},{"s":"270","p":50,"v":146},{"s":"270","p":60,"v":205},{"s":"270","p":70,"v":265},{"s":"270","p":80,"v":302},{"s":"270","p":90,"v":316},{"s":"270","p":100,"v":302},{"s":"270","p":110,"v":265},{"s":"270","p":120,"v":205},{"s":"270","p":130,"v":146},{"s":"270","p":140,"v":99},{"s":"270","p":150,"v":60},{"s":"270","p":160,"v":38},{"s":"270","p":170,"v":26},{"s":"270","p":180,"v":21},{"s":"270","p":190,"v":18},{"s":"270","p":200,"v":14},{"s":"270","p":210,"v":10},{"s":"270","p":220,"v":5},{"s":"270","p":230,"v":0},{"s":"270","p":240,"v":-4},{"s":"270","p":250,"v":-7},{"s":"270","p":260,"v":-9},{"s":"270","p":270,"v":-10},{"s":"270","p":280,"v":-9},{"s":"270","p":290,"v":-7},{"s":"270","p":300,"v":-4},{"s":"270","p":310,"v":0},{"s":"270","p":320,"v":5},{"s":"270","p":330,"v":10},{"s":"270","p":340,"v":14},{"s":"270","p":350,"v":18},{"s":"270","p":360,"v":21}
],
"vlines": [{"p":90},{"p":180},{"p":270},{"p":360}],
"marks": [{"p":0,"m":"A","sub":"T"},{"p":90,"m":"Q","sub":""},{"p":180,"m":"A","sub":"O"},{"p":270,"m":"Q","sub":""},{"p":360,"m":"A","sub":"T"}],
"phi": [{"p":203,"m":"ϕ"}],
"zero": [{"v":0}],
"yaxis": [{"a":"y"}]
},
"layer": [
{
"data": {"name": "thin"},
"mark": {"type": "line", "strokeWidth": 1.4, "interpolate": "monotone"},
"encoding": {
"x": {"field": "p", "type": "quantitative", "scale": {"domain": [0, 360], "nice": false, "zero": false},
"axis": {"values": [0,45,90,135,180,225,270,315,360], "title": null, "grid": false, "labelFont": "Liberation Sans", "labelFontWeight": "bold", "labelFontSize": 32, "labelColor": "#000", "labelPadding": 5, "labelFlush": false, "labelOverlap": false, "tickSize": 12, "tickWidth": 3, "tickColor": "#000", "domainColor": "#000", "domainWidth": 3}},
"y": {"field": "v", "type": "quantitative", "scale": {"domain": [-150, 375], "nice": false, "zero": false},
"axis": {"values": [-150,-50,50,150,250,350], "labelExpr": "'' + datum.value", "title": "Contrainte locale [Mpa]", "titleFont": "Liberation Sans", "titleFontWeight": "normal", "titleFontSize": 33, "titleColor": "#000", "titlePadding": 10, "titleY": 348, "grid": false, "domain": false, "labelFont": "Liberation Sans", "labelFontWeight": "bold", "labelFontSize": 32, "labelColor": "#000", "labelPadding": 12, "tickSize": 15, "tickWidth": 3, "tickColor": "#000"}},
"color": {"field": "t", "type": "nominal", "legend": null,
"scale": {"range": ["#2e3192","#00a99d","#f7941d","#e8d82a","#92278f","#ed87b6","#29abe2","#39b54a","#ed1c24","#231f20","#a7a9ac","#8b2332","#f5b77f","#a98bc9","#1b75bc","#6b8e23"]}},
"detail": {"field": "t", "type": "nominal"}
}
},
{
"data": {"name": "zero"},
"mark": {"type": "rule", "color": "#1c1c6e", "strokeWidth": 4.5, "strokeDash": [12, 7]},
"encoding": {"y": {"field": "v", "type": "quantitative"}}
},
{
"data": {"name": "heavy"},
"mark": {"type": "line", "strokeWidth": 7, "interpolate": "monotone"},
"encoding": {
"x": {"field": "p", "type": "quantitative"},
"y": {"field": "v", "type": "quantitative"},
"color": {"field": "s", "type": "nominal",
"scale": {"domain": ["0","90","180","270"], "range": ["#ee2a24","#fbef1c","#0b0b0b","#8cc63f"]},
"legend": {"orient": "none", "legendX": 310, "legendY": -4, "direction": "horizontal", "title": null, "symbolType": "stroke", "symbolStrokeWidth": 8, "symbolSize": 2700, "labelFont": "Liberation Sans", "labelFontWeight": "bold", "labelFontSize": 32, "labelColor": "#000", "labelOffset": 4, "columnPadding": 24, "padding": 0}}
}
},
{
"data": {"name": "vlines"},
"mark": {"type": "rule", "color": "#222", "strokeWidth": 1.2},
"encoding": {
"x": {"field": "p", "type": "quantitative"},
"y": {"datum": -150},
"y2": {"datum": 375}
}
},
{
"data": {"name": "vlines"},
"mark": {"type": "rule", "color": "#999", "strokeWidth": 1},
"encoding": {
"x": {"field": "p", "type": "quantitative"},
"y": {"datum": -197},
"y2": {"datum": -210}
}
},
{
"data": {"name": "yaxis"},
"mark": {"type": "rule", "color": "#000", "strokeWidth": 4},
"encoding": {
"x": {"datum": 0},
"y": {"datum": -150},
"y2": {"datum": 350}
}
},
{
"data": {"name": "marks"},
"mark": {"type": "text", "font": "Liberation Serif", "fontWeight": "bold", "fontSize": 19, "align": "center", "baseline": "middle", "color": "#000"},
"encoding": {
"x": {"field": "p", "type": "quantitative"},
"y": {"datum": -226},
"text": {"field": "m"}
}
},
{
"data": {"name": "marks"},
"mark": {"type": "text", "font": "Liberation Serif", "fontWeight": "bold", "fontSize": 12, "align": "left", "baseline": "middle", "dx": 7, "dy": 6, "color": "#000"},
"encoding": {
"x": {"field": "p", "type": "quantitative"},
"y": {"datum": -226},
"text": {"field": "sub"}
}
},
{
"data": {"name": "phi"},
"mark": {"type": "text", "font": "DejaVu Serif", "fontStyle": "italic", "fontSize": 46, "align": "center", "baseline": "middle", "color": "#000"},
"encoding": {
"x": {"field": "p", "type": "quantitative"},
"y": {"datum": -200},
"text": {"field": "m"}
}
}
],
"resolve": {"scale": {"color": "independent"}}
}
